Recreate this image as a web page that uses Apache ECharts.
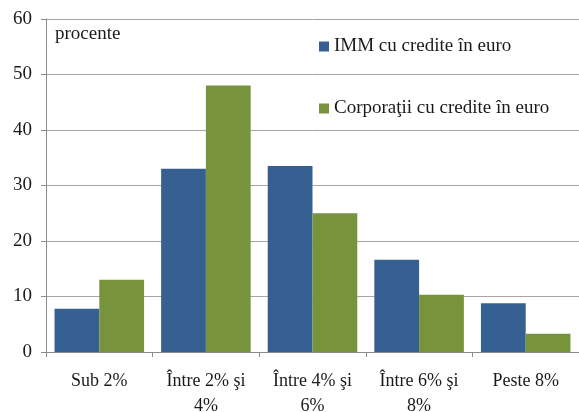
<!DOCTYPE html>
<html>
<head>
<meta charset="utf-8">
<script src="https://cdn.jsdelivr.net/npm/echarts@6/dist/echarts.min.js"></script>
<style>
  html, body { margin: 0; padding: 0; background: #fff; }
  #chart { width: 579px; height: 412px; }
</style>
</head>
<body>
<div id="chart"></div>
<script>
// categorii (intervale de rata)
const categories = ['Sub 2%', 'Între 2% şi\n4%', 'Între 4% şi\n6%', 'Între 6% şi\n8%', 'Peste 8%']
const seriesNames = ['IMM cu credite în euro', 'Corporaţii cu credite în euro']
const immValues = [7.8, 33.0, 33.5, 16.6, 8.8]
const corpValues = [13.0, 48.0, 25.0, 10.3, 3.3]

const font = '"Liberation Serif", "Times New Roman", "DejaVu Serif", serif'
const chart = echarts.init(document.getElementById('chart'))

chart.setOption({
  animation: false,
  textStyle: { fontFamily: font },
  grid: { left: 46, right: 0, top: 19, bottom: 60, containLabel: false, outerBoundsMode: 'none' },
  legend: {
    orient: 'vertical',
    left: 314,
    top: 32,
    itemWidth: 10,
    itemHeight: 10,
    itemGap: 43,
    itemStyle: { borderWidth: 0 },
    icon: 'rect',
    textStyle: { fontFamily: font, fontSize: 19, color: '#1a1a1a' },
    data: seriesNames
  },
  graphic: [{
    type: 'text',
    left: 55,
    top: 25,
    style: { text: 'procente', fontFamily: font, fontSize: 19, fill: '#1a1a1a' }
  }],
  xAxis: {
    type: 'category',
    data: categories,
    axisLine: { lineStyle: { color: '#8c8c8c' } },
    axisTick: { show: true, length: 5, lineStyle: { color: '#8c8c8c' } },
    axisLabel: { interval: 0, fontFamily: font, fontSize: 18, color: '#1a1a1a', margin: 17, lineHeight: 25 }
  },
  yAxis: {
    type: 'value',
    min: 0,
    max: 60,
    interval: 10,
    axisLine: { show: true, lineStyle: { color: '#8c8c8c' } },
    axisTick: { show: true, length: 5, lineStyle: { color: '#8c8c8c' } },
    splitLine: { lineStyle: { color: '#a6a6a6' } },
    axisLabel: { fontFamily: font, fontSize: 19, color: '#1a1a1a', margin: 14 }
  },
  series: [{
    name: seriesNames[0],
    type: 'bar',
    data: immValues,
    barGap: '0%',
    barCategoryGap: '16%',
    itemStyle: { color: '#376092' }
  }, {
    name: seriesNames[1],
    type: 'bar',
    data: corpValues,
    itemStyle: { color: '#77933c' }
  }]
})
</script>
</body>
</html>
